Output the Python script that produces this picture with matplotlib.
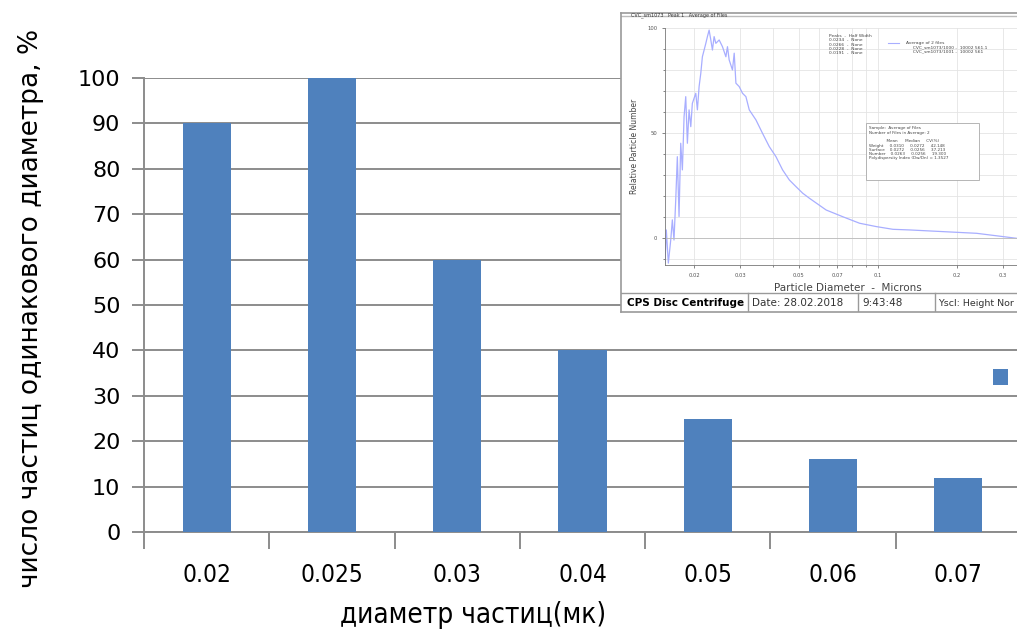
import matplotlib.pyplot as plt
from matplotlib.patches import Rectangle
from matplotlib.lines import Line2D

# main bar chart data
diameters = ['0.02', '0.025', '0.03', '0.04', '0.05', '0.06', '0.07']
counts = [90, 100, 60, 40, 25, 16, 12]

# curve of the pasted CPS screenshot
cps_x = [0.01550, 0.01568, 0.01596, 0.01630, 0.01653, 0.01677, 0.01703, 0.01727,
         0.01753, 0.01779, 0.01805, 0.01832, 0.01859, 0.01886, 0.01914, 0.01943,
         0.01970, 0.02030, 0.02059, 0.02090, 0.02121, 0.02151, 0.02184, 0.02217,
         0.02248, 0.02282, 0.02316, 0.02349, 0.02384, 0.02420, 0.02492, 0.02565,
         0.02643, 0.02680, 0.02720, 0.02800, 0.02843, 0.02886, 0.02970, 0.03058,
         0.03150, 0.03244, 0.03440, 0.03645, 0.03866, 0.04100, 0.04345, 0.04610,
         0.04889, 0.05182, 0.05496, 0.06365, 0.07363, 0.08527, 0.09875, 0.1143,
         0.1323, 0.1773, 0.2379, 0.3389]
cps_y = [-12.0, 3.8, -12.0, -1.0, 8.6, -1.0, 18.1, 38.7, 10.2, 45.1, 32.4, 57.8,
         67.3, 45.1, 61.0, 53.0, 64.1, 68.9, 61.0, 72.1, 78.4, 86.3, 89.5, 92.7,
         95.9, 99.0, 94.3, 89.5, 95.9, 92.7, 94.3, 91.1, 86.3, 91.1, 84.8, 80.0,
         88.0, 73.7, 72.1, 68.9, 67.3, 61.0, 56.2, 49.8, 43.5, 38.7, 32.4, 27.6,
         24.4, 21.3, 18.9, 13.3, 10.1, 7.0, 5.4, 4.1, 3.8, 3.0, 2.2, -0.2]
cps_ticks = [0.02, 0.03, 0.05, 0.07, 0.1, 0.2, 0.3]

W, H = 1017, 630
fig = plt.figure(figsize=(W / 100, H / 100), dpi=100)

# ---- main chart ----
ax = fig.add_axes([144 / W, 98 / H, 877 / W, 454 / H])
pos = list(range(len(diameters)))
bars = ax.bar(pos, counts, width=0.385, color='#4F81BD', zorder=3)
ax.set_xlim(-0.5, len(diameters) - 0.5)
ax.set_ylim(0, 100)
ax.set_yticks(range(0, 101, 10))
ax.yaxis.grid(True, color='#8c8c8c', linewidth=1.4, zorder=0)
for s in ['top', 'right']:
    ax.spines[s].set_visible(False)
for s in ['left', 'bottom']:
    ax.spines[s].set_color('#8c8c8c')
    ax.spines[s].set_linewidth(1.4)
ax.set_xticks([p - 0.5 for p in pos] + [len(pos) - 0.5])
ax.set_xticklabels([])
ax.set_xticks(pos, minor=True)
ax.set_xticklabels(diameters, minor=True, fontsize=17.5, fontstretch='condensed')
ax.tick_params(axis='x', which='major', length=12, width=1.4, color='#8c8c8c')
ax.tick_params(axis='x', which='minor', length=0, pad=22)
ax.tick_params(axis='y', length=9, width=1.4, color='#8c8c8c', labelsize=16, pad=8)
ax.set_xlabel('диаметр частиц(мк)', fontsize=20, fontstretch='condensed')
ax.xaxis.set_label_coords(0.375, -0.152)
ax.set_ylabel('число частиц одинакового диаметра, %', fontsize=19)
ax.yaxis.set_label_coords(-0.114, 0.493)

fig.legend(handles=[bars], labels=[' '], loc='center left', frameon=False,
           bbox_to_anchor=(993 / W, 1 - 378 / H), handlelength=0.75, handleheight=0.9,
           borderpad=0, borderaxespad=0, fontsize=14)

# ---- pasted screenshot ----
panel = fig.add_axes([621 / W, 1 - 312 / H, 420 / W, 299 / H], zorder=5)
panel.set_xlim(0, 420)
panel.set_ylim(299, 0)
panel.set_xticks([])
panel.set_yticks([])
for s in panel.spines.values():
    s.set_color('#9a9a9a')
    s.set_linewidth(1.2)
panel.add_line(Line2D([0, 420], [3, 3], color='#bbbbbb', lw=1))
panel.add_line(Line2D([0, 420], [280, 280], color='#9a9a9a', lw=1))
for sx in [127, 237, 314]:
    panel.add_line(Line2D([sx, sx], [280, 299], color='#9a9a9a', lw=1))
panel.text(6, 290, 'CPS Disc Centrifuge', fontsize=7.5, weight='bold', va='center')
panel.text(131, 290, 'Date: 28.02.2018', fontsize=7.5, va='center', color='#333333')
panel.text(241, 290, '9:43:48', fontsize=7.5, va='center', color='#333333')
panel.text(317, 290, 'Yscl: Height Nor', fontsize=6.8, va='center', color='#333333')
panel.text(10, 2, 'CVC_sm1073   Peak 1   Average of Files', fontsize=3.5, va='center',
           color='#333333')

cps = fig.add_axes([665 / W, 1 - 265 / H, 365 / W, 237 / H], zorder=6)
cps.set_xscale('log')
cps.plot(cps_x, cps_y, color='#a8aeff', linewidth=0.9)
cps.set_xlim(0.0155, 0.38)
cps.set_ylim(-12.9, 100)
cps.set_xticks(cps_ticks)
cps.set_xticklabels([str(t) for t in cps_ticks])
cps.set_yticks([0, 50, 100])
cps.set_yticks(range(-10, 100, 10), minor=True)
cps.tick_params(which='both', labelsize=3.8, length=2, width=0.5, colors='#555555')
cps.tick_params(which='minor', length=1.2)
cps.grid(True, which='both', color='#e4e4e4', linewidth=0.6)
cps.axhline(0, color='#bbbbbb', linewidth=0.6)
for s in ['top', 'right']:
    cps.spines[s].set_visible(False)
for s in ['left', 'bottom']:
    cps.spines[s].set_color('#777777')
    cps.spines[s].set_linewidth(0.6)
cps.set_xlabel('Particle Diameter  -  Microns', fontsize=7.5, color='#444444', labelpad=4)
cps.set_ylabel('Relative Particle Number', fontsize=5.5, color='#444444', labelpad=6)

cps.text(0.45, 0.975, 'Peaks  -  Half Width\n0.0234  -  None\n0.0266  -  None\n'
         '0.0228  -  None\n0.0191  -  None', transform=cps.transAxes, fontsize=3.2,
         va='top', color='#444444', linespacing=1.1)
cps.plot([0.61, 0.64], [0.935, 0.935], transform=cps.transAxes, color='#a8aeff', lw=0.8)
cps.text(0.66, 0.945, 'Average of 2 files\n     CVC_sm1073/1000 -  10002 561.1\n'
         '     CVC_sm1073/1001 -  10002 561', transform=cps.transAxes, fontsize=3.2,
         va='top', color='#444444', linespacing=1.1)
cps.add_patch(Rectangle((0.55, 0.36), 0.31, 0.24, transform=cps.transAxes,
                        facecolor='white', edgecolor='#aaaaaa', lw=0.6, zorder=4))
cps.text(0.56, 0.585, 'Sample:  Average of Files\nNumber of Files in Average: 2\n\n'
         '              Mean      Median     CV(%)\n'
         'Weight     0.0310     0.0272     42.148\n'
         'Surface    0.0272     0.0256     37.213\n'
         'Number    0.0263     0.0256     19.300\n'
         'Polydispersity Index (Dw/Dn) = 1.3527', transform=cps.transAxes, fontsize=3.0,
         va='top', color='#444444', linespacing=1.1, zorder=5)

fig.savefig('out.png', dpi=100)
